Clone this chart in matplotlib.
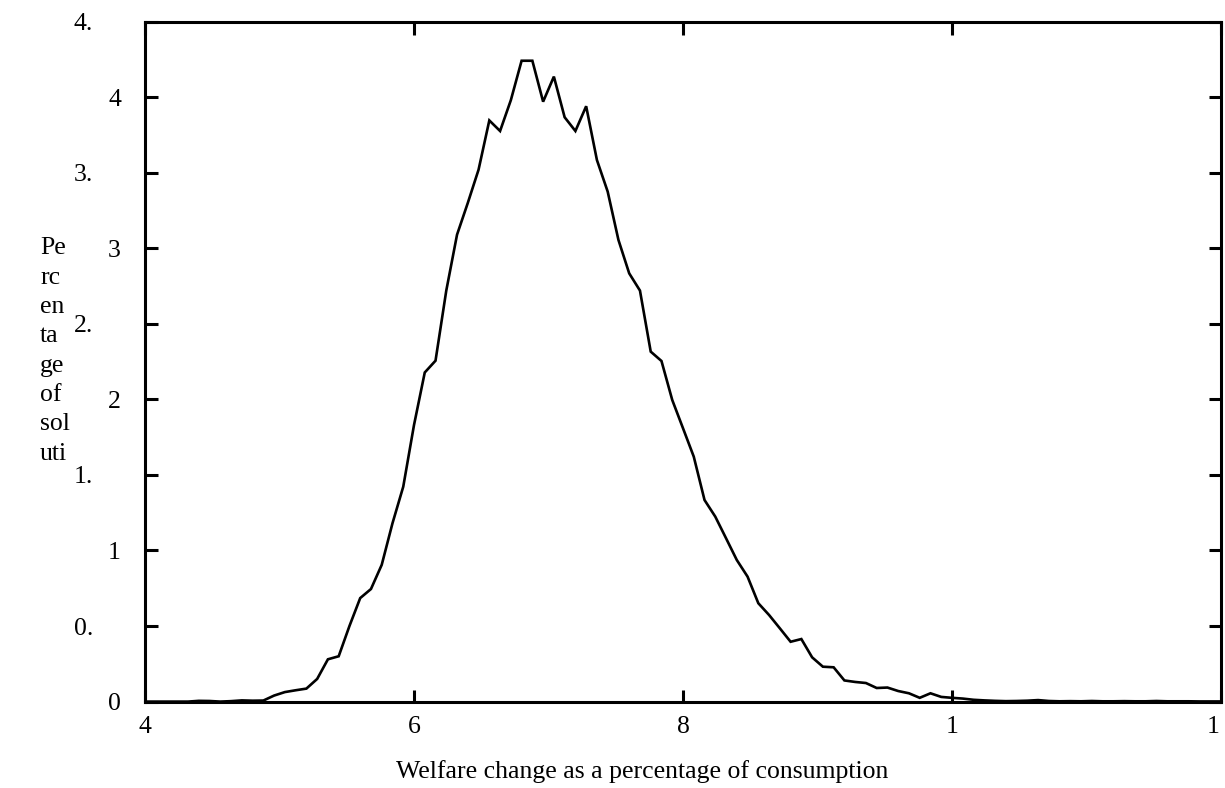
import matplotlib
matplotlib.use("Agg")
import matplotlib.pyplot as plt
import matplotlib.transforms as mtransforms
import numpy as np

# ---- data ----
bin_start = 4.0
bin_width = 0.08
pct = [
    0.0, 0.0, 0.0, 0.0, 0.0, 0.005, 0.004, 0.0, 0.003, 0.008,
    0.006, 0.007, 0.04, 0.063, 0.075, 0.086, 0.15, 0.28, 0.30, 0.50,
    0.685, 0.745, 0.905, 1.18, 1.422, 1.83, 2.178, 2.256, 2.72, 3.09,
    3.30, 3.52, 3.846, 3.776, 3.98, 4.241, 4.241, 3.97, 4.136, 3.867,
    3.776, 3.94, 3.584, 3.375, 3.055, 2.834, 2.72, 2.316, 2.254, 1.996,
    1.809, 1.621, 1.334, 1.224, 1.081, 0.937, 0.827, 0.651, 0.573, 0.485,
    0.396, 0.414, 0.293, 0.231, 0.227, 0.14, 0.13, 0.123, 0.09, 0.093,
    0.07, 0.055, 0.025, 0.055, 0.031, 0.025, 0.02, 0.012, 0.008, 0.005,
    0.003, 0.004, 0.006, 0.01, 0.004, 0.002, 0.003, 0.002, 0.004, 0.002,
    0.002, 0.003, 0.002, 0.002, 0.004, 0.002, 0.002, 0.002, 0.001, 0.001,
    0.001,
]
x_ticks = [4, 6, 8, 10, 12]
x_tick_labels = ["4", "6", "8", "1", "1"]
y_ticks = [0, 0.5, 1, 1.5, 2, 2.5, 3, 3.5, 4, 4.5]
y_tick_labels = ["0", "0.", "1", "1.", "2", "2.", "3", "3.", "4", "4."]
y_label_lines = ["Pe", "rc", "en", "ta", "ge", "of", "sol", "uti"]
x_label = "Welfare change as a percentage of consumption"

x = bin_start + bin_width * np.arange(len(pct))

FS = 18.5
plt.rcParams["font.family"] = ["Liberation Serif", "DejaVu Serif"]
W, H = 1225, 788
fig = plt.figure(figsize=(W / 100, H / 100), dpi=100)
left, right, bottom, top = 145 / W, 1221 / W, 1 - 701.6 / H, 1 - 21.6 / H
ax = fig.add_axes([left, bottom, right - left, top - bottom])
ax.plot(x, pct, color="black", lw=1.9, solid_joinstyle="miter")
ax.set_xlim(4, 12)
ax.set_ylim(0, 4.5)

for s in ax.spines.values():
    s.set_linewidth(2.2)

ax.set_xticks(x_ticks)
ax.set_xticklabels([])
ax.set_yticks(y_ticks)
ax.set_yticklabels([])
ax.tick_params(direction="in", length=9, width=2.2, top=True, right=True)

# x tick labels (the last one kept inside the picture)
for i, (v, lab) in enumerate(zip(x_ticks, x_tick_labels)):
    xoff = -8 if i == len(x_ticks) - 1 else 0
    tr = mtransforms.offset_copy(ax.get_xaxis_transform(), fig=fig,
                                 x=xoff, y=-14, units="dots")
    ax.text(v, 0, lab, transform=tr, ha="center", va="top", fontsize=FS)

# y tick labels (integer ones closer to the axis than the half ones)
for v, lab in zip(y_ticks, y_tick_labels):
    off = -24 if "." not in lab else -52
    tr = mtransforms.offset_copy(ax.get_yaxis_transform(), fig=fig,
                                 x=off, y=0, units="dots")
    ax.text(0, v, lab, transform=tr, ha="right", va="center_baseline",
            fontsize=FS)

fig.text(396 / W, 1 - 772 / H, x_label, ha="left", va="center", fontsize=FS)

fig.text(40 / W, 1 - 351 / H, "\n".join(y_label_lines), ha="left",
         va="center", fontsize=FS, linespacing=1.43)

fig.savefig("out.png", dpi=100)
